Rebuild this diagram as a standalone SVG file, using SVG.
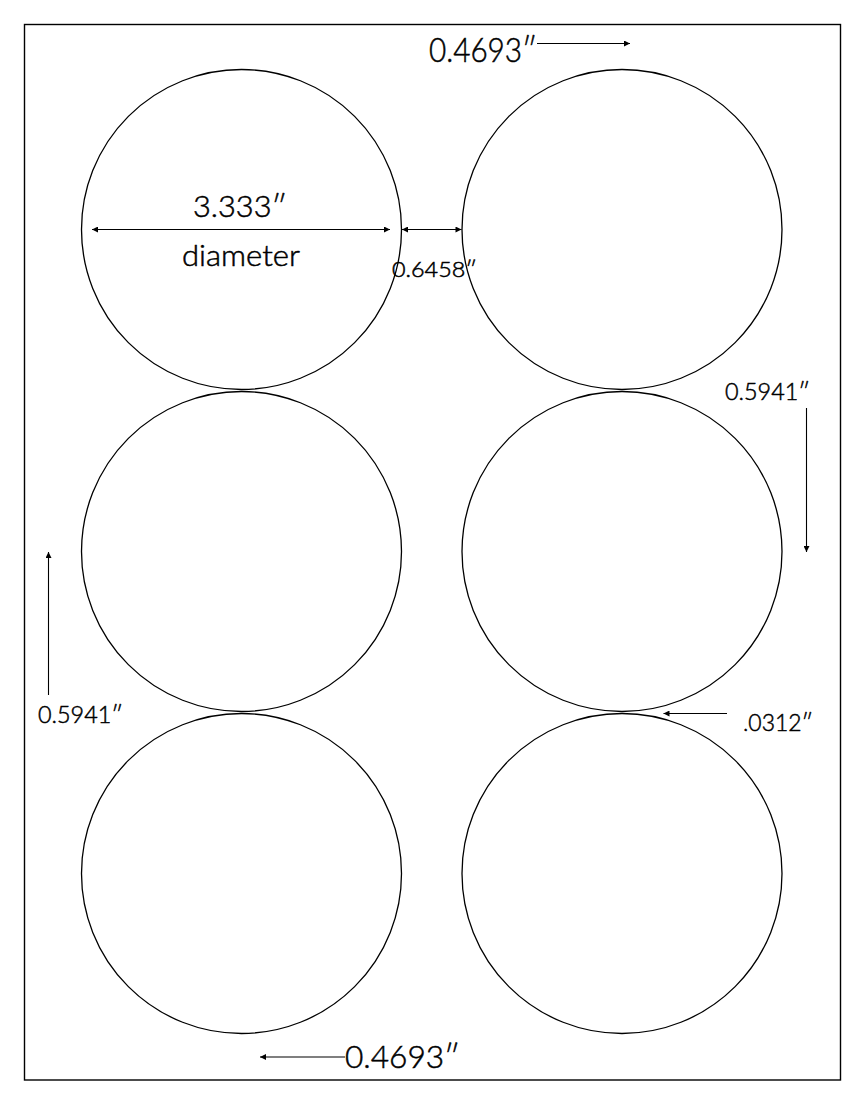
<svg xmlns="http://www.w3.org/2000/svg" width="864" height="1104" viewBox="0 0 864 1104">
<style>
.frame{fill:none;stroke:#000;stroke-width:1.4}
.c{fill:none;stroke:#000;stroke-width:1.3}
.a{fill:none;stroke:#000;stroke-width:1.1}
.t{font-family:Lato,"Liberation Sans","DejaVu Sans",sans-serif;font-weight:300;fill:#000;stroke:#000;stroke-width:0.5}
</style>
<defs>
<marker id="ah" viewBox="0 0 10 10" refX="10" refY="5" markerUnits="userSpaceOnUse" markerWidth="8" markerHeight="6" orient="auto-start-reverse">
<path d="M0,0 L10,5 L0,10 z" fill="#000"/>
</marker>
</defs>
<rect width="864" height="1104" fill="#fff"/>
<rect id="sheet" class="frame" x="24.5" y="24.5" width="816" height="1055.5"/>
<g id="circles">
<g id="c1"><circle class="c" cx="241.5" cy="229.5" r="160"/></g>
<g id="c2"><circle class="c" cx="622" cy="229.5" r="160"/></g>
<g id="c3"><circle class="c" cx="241.5" cy="551.5" r="160"/></g>
<g id="c4"><circle class="c" cx="622" cy="551.5" r="160"/></g>
<g id="c5"><circle class="c" cx="241.5" cy="873.5" r="160"/></g>
<g id="c6"><circle class="c" cx="622" cy="873.5" r="160"/></g>
</g>
<g id="connectors">
<line class="a" x1="537" y1="43.5" x2="630" y2="43.5" marker-end="url(#ah)"/>
<line class="a" x1="92" y1="229.5" x2="390" y2="229.5" marker-start="url(#ah)" marker-end="url(#ah)"/>
<line class="a" x1="402" y1="229.5" x2="461.5" y2="229.5" marker-start="url(#ah)" marker-end="url(#ah)"/>
<line class="a" x1="806.5" y1="408" x2="806.5" y2="552" marker-end="url(#ah)"/>
<line class="a" x1="48.5" y1="695" x2="48.5" y2="552" marker-end="url(#ah)"/>
<line class="a" x1="727" y1="713.5" x2="663.5" y2="713.5" marker-end="url(#ah)"/>
<line class="a" x1="345" y1="1057" x2="260" y2="1057" marker-end="url(#ah)"/>
</g>
<g id="texts">
<text class="t" x="429" y="62" font-size="33" textLength="108" lengthAdjust="spacingAndGlyphs">0.4693″</text>
<text class="t" x="193" y="217" font-size="30" textLength="94" lengthAdjust="spacingAndGlyphs">3.333″</text>
<text class="t" x="182" y="266" font-size="29" textLength="118" lengthAdjust="spacingAndGlyphs">diameter</text>
<text class="t" x="392" y="277" font-size="21" textLength="85" lengthAdjust="spacingAndGlyphs">0.6458″</text>
<text class="t" x="725" y="400" font-size="23" textLength="85" lengthAdjust="spacingAndGlyphs">0.5941″</text>
<text class="t" x="38" y="723" font-size="23" textLength="85" lengthAdjust="spacingAndGlyphs">0.5941″</text>
<text class="t" x="743" y="731" font-size="23" textLength="70" lengthAdjust="spacingAndGlyphs">.0312″</text>
<text class="t" x="345" y="1068" font-size="31" textLength="115" lengthAdjust="spacingAndGlyphs">0.4693″</text>
</g>
</svg>
